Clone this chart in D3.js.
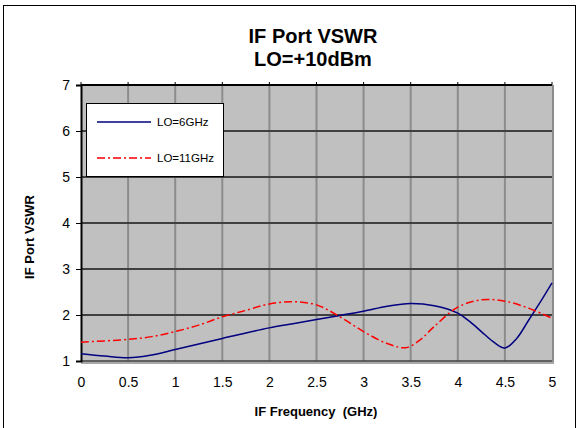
<!DOCTYPE html>
<html>
<head>
<meta charset="utf-8">
<script src="https://cdn.jsdelivr.net/npm/d3@7"></script>
<style>
  html, body { margin: 0; padding: 0; background: #fff; }
  svg { display: block; font-family: "Liberation Sans", Arial, sans-serif; }
</style>
</head>
<body>
<svg id="chart" width="583" height="428"></svg>
<script>
// ---- data ----
const titleLines = ["IF Port VSWR", "LO=+10dBm"];
const xTicks = [0, 0.5, 1, 1.5, 2, 2.5, 3, 3.5, 4, 4.5, 5];
const yTicks = [1, 2, 3, 4, 5, 6, 7];
const seriesNames = ["LO=6GHz", "LO=11GHz"];

const freq6 = [0, 0.25, 0.5, 0.75, 1, 1.25, 1.5, 1.75, 2, 2.25, 2.5, 2.75, 3, 3.25, 3.5, 3.75, 4, 4.125, 4.25, 4.375, 4.5, 4.625, 4.75, 4.875, 5];
const vswr6 = [1.16, 1.11, 1.07, 1.13, 1.25, 1.37, 1.49, 1.61, 1.72, 1.81, 1.90, 1.99, 2.08, 2.19, 2.25, 2.20, 2.04, 1.86, 1.64, 1.42, 1.28, 1.49, 1.88, 2.28, 2.70];

const freq11 = [0, 0.5, 0.75, 1, 1.25, 1.5, 1.75, 2, 2.25, 2.5, 2.75, 3, 3.25, 3.45, 3.6, 3.75, 4, 4.25, 4.5, 4.75, 5];
const vswr11 = [1.41, 1.47, 1.53, 1.64, 1.78, 1.96, 2.10, 2.24, 2.29, 2.22, 1.96, 1.64, 1.38, 1.29, 1.46, 1.75, 2.17, 2.33, 2.30, 2.15, 1.93];

// ---- layout ----
const svg = d3.select("#chart");
const W = 583, H = 428;
const pL = 81, pR = 552, pT = 85, pB = 361;

svg.append("rect").attr("width", W).attr("height", H).attr("fill", "#fff");
svg.append("rect").attr("x", 3.5).attr("y", 5.5).attr("width", 572).attr("height", 440)
  .attr("fill", "none").attr("stroke", "#000").attr("stroke-width", 1);

const x = d3.scaleLinear().domain([0, 5]).range([pL, pR]);
const y = d3.scaleLinear().domain([1, 7]).range([pB, pT]);

// plot area
svg.append("rect").attr("x", pL).attr("y", pT).attr("width", pR - pL).attr("height", pB - pT + 2)
  .attr("fill", "#C0C0C0");
svg.append("line").attr("x1", pR + 1).attr("x2", pR + 1).attr("y1", pT).attr("y2", pB + 2)
  .attr("stroke", "#8c8c8c").attr("stroke-width", 2);
svg.append("line").attr("x1", pL).attr("x2", pR + 2).attr("y1", pB + 2).attr("y2", pB + 2)
  .attr("stroke", "#a8a8a8").attr("stroke-width", 2);

// vertical gridlines
svg.append("g").selectAll("line").data(xTicks.filter(d => d > 0 && d < 5)).join("line")
  .attr("x1", d => x(d)).attr("x2", d => x(d)).attr("y1", pT).attr("y2", pB)
  .attr("stroke", "#8c8c8c").attr("stroke-width", 2);
// top ticks
svg.append("g").selectAll("line").data(xTicks).join("line")
  .attr("x1", d => x(d)).attr("x2", d => x(d)).attr("y1", pT - 3).attr("y2", pT)
  .attr("stroke", "#000").attr("stroke-width", 1);

// horizontal gridlines
svg.append("g").selectAll("line").data(yTicks.filter(d => d > 1)).join("line")
  .attr("x1", pL).attr("x2", pR).attr("y1", d => y(d)).attr("y2", d => y(d))
  .attr("stroke", d => d === 7 ? "#000" : "#404040").attr("stroke-width", 2);
svg.append("line").attr("x1", pL).attr("x2", pR).attr("y1", pB).attr("y2", pB)
  .attr("stroke", "#404040").attr("stroke-width", 1.5);

// y axis
const yAxis = d3.axisLeft(y).tickValues(yTicks).tickSize(5).tickPadding(6).tickFormat(d3.format("d"));
const gy = svg.append("g").attr("transform", `translate(${pL},0)`).call(yAxis);
gy.select(".domain").attr("stroke", "#000").attr("stroke-width", 2);
gy.selectAll(".tick line").attr("stroke", "#000").attr("stroke-width", 1);
gy.selectAll("text").attr("font-size", 14).attr("fill", "#000")
  .attr("font-family", "Liberation Sans, Arial, sans-serif");

// x axis labels
const xAxis = d3.axisBottom(x).tickValues(xTicks).tickSize(0).tickPadding(16).tickFormat(d => String(d));
const gx = svg.append("g").attr("transform", `translate(0,${pB})`).call(xAxis);
gx.select(".domain").remove();
gx.selectAll("text").attr("font-size", 14).attr("fill", "#000")
  .attr("font-family", "Liberation Sans, Arial, sans-serif");

// lines
const line = d3.line().x(d => x(d[0])).y(d => y(d[1])).curve(d3.curveCatmullRom.alpha(0.5));
svg.append("path").datum(d3.zip(freq6, vswr6)).attr("d", line)
  .attr("fill", "none").attr("stroke", "#000080").attr("stroke-width", 1.5);
svg.append("path").datum(d3.zip(freq11, vswr11)).attr("d", line)
  .attr("fill", "none").attr("stroke", "#FF0000").attr("stroke-width", 1.5)
  .attr("stroke-dasharray", "8,3,2,3");

// legend
const lg = svg.append("g");
lg.append("rect").attr("x", 86.5).attr("y", 103.5).attr("width", 137).attr("height", 73)
  .attr("fill", "#fff").attr("stroke", "#000").attr("stroke-width", 1);
const legendRows = [
  { name: seriesNames[0], color: "#000080", dash: null, yy: 122 },
  { name: seriesNames[1], color: "#FF0000", dash: "8,3,2,3", yy: 158 }
];
legendRows.forEach(r => {
  lg.append("line").attr("x1", 97).attr("x2", 151).attr("y1", r.yy).attr("y2", r.yy)
    .attr("stroke", r.color).attr("stroke-width", 1.5).attr("stroke-dasharray", r.dash);
  lg.append("text").attr("x", 157).attr("y", r.yy + 4).attr("font-size", 11.5).text(r.name);
});

// titles
const tg = svg.append("text").attr("text-anchor", "middle").attr("font-weight", "bold").attr("font-size", 20);
titleLines.forEach((t, i) => {
  tg.append("tspan").attr("x", 313).attr("y", 43 + i * 23).text(t);
});

svg.append("text").attr("x", 316).attr("y", 416).attr("text-anchor", "middle")
  .attr("font-weight", "bold").attr("font-size", 13).attr("xml:space", "preserve").text("IF Frequency  (GHz)");

svg.append("text").attr("transform", "translate(34,237) rotate(-90)").attr("text-anchor", "middle")
  .attr("font-weight", "bold").attr("font-size", 13).text("IF Port VSWR");
</script>
</body>
</html>
